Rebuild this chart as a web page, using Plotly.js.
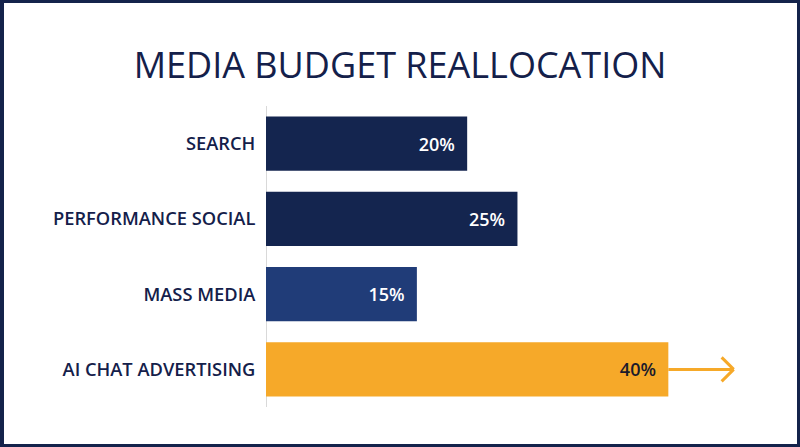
<!DOCTYPE html>
<html>
<head>
<meta charset="utf-8">
<script src="https://cdn.plot.ly/plotly-3.0.1.min.js"></script>
<style>
  html, body { margin: 0; padding: 0; background: #ffffff; }
  #wrap { position: relative; width: 800px; height: 447px; }
  #chart { width: 800px; height: 447px; }
  #frame { position: absolute; left: 0; top: 0; width: 800px; height: 447px; box-sizing: border-box;
           border-style: solid; border-color: #14234b; border-width: 3px 3px 3px 4px; pointer-events: none; }
</style>
</head>
<body>
<div id="wrap"><div id="chart"></div><div id="frame"></div></div>
<script>
const categories = ["SEARCH", "PERFORMANCE SOCIAL", "MASS MEDIA", "AI CHAT ADVERTISING"];
const shares = [20, 25, 15, 40];
const barColors = ["#14254f", "#14254f", "#203c78", "#f6a929"];
const textColors = ["#ffffff", "#ffffff", "#ffffff", "#1b1b2b"];
const titleText = "MEDIA BUDGET REALLOCATION";

const navy = "#14204a";
const font = "Open Sans, sans-serif";

const trace = {
  type: "bar",
  orientation: "h",
  y: categories,
  x: shares,
  width: 0.72,
  marker: { color: barColors, line: { width: 0 } },
  text: shares.map(v => v + "%\u00a0\u00a0"),
  textposition: "inside",
  insidetextanchor: "end",
  textfont: { family: font, size: 18, color: textColors, weight: 600 },
  hoverinfo: "skip",
  cliponaxis: false
};

// growth arrow off the last bar
const last = shares.length - 1;
const arrowStart = shares[last];
const arrowTip = arrowStart + 6.5;
const arrowColor = barColors[last];
const shapes = [
  { type: "line", xref: "x", yref: "y", x0: arrowStart, x1: arrowTip, y0: last, y1: last,
    line: { color: arrowColor, width: 3 } },
  { type: "line", xref: "x", yref: "y", x0: arrowTip - 1.2, x1: arrowTip, y0: last - 0.16, y1: last,
    line: { color: arrowColor, width: 3 } },
  { type: "line", xref: "x", yref: "y", x0: arrowTip - 1.2, x1: arrowTip, y0: last + 0.16, y1: last,
    line: { color: arrowColor, width: 3 } },
  { type: "line", xref: "x", yref: "paper", x0: 0, x1: 0, y0: 0, y1: 1,
    line: { color: "#d9d9d9", width: 2 }, layer: "below" }
];

const layout = {
  width: 800, height: 447,
  margin: { l: 266, r: 18, t: 106, b: 40 },
  paper_bgcolor: "#ffffff",
  plot_bgcolor: "#ffffff",
  showlegend: false,
  title: {
    text: titleText,
    font: { family: font, size: 36, color: navy, weight: 500 },
    x: 0.5, xanchor: "center",
    y: 1 - 65 / 447, yanchor: "middle", yref: "container"
  },
  xaxis: { range: [0, 51.3], visible: false, fixedrange: true },
  yaxis: {
    autorange: "reversed",
    range: [3.5, -0.5],
    showgrid: false, zeroline: false, showline: false,
    ticks: "outside", ticklen: 6, tickcolor: "rgba(0,0,0,0)",
    tickfont: { family: font, size: 18.3, color: navy, weight: 600 },
    fixedrange: true
  },
  shapes: shapes,
  bargap: 0.28
};

Plotly.newPlot("chart", [trace], layout, { displayModeBar: false, staticPlot: true });
</script>
</body>
</html>
